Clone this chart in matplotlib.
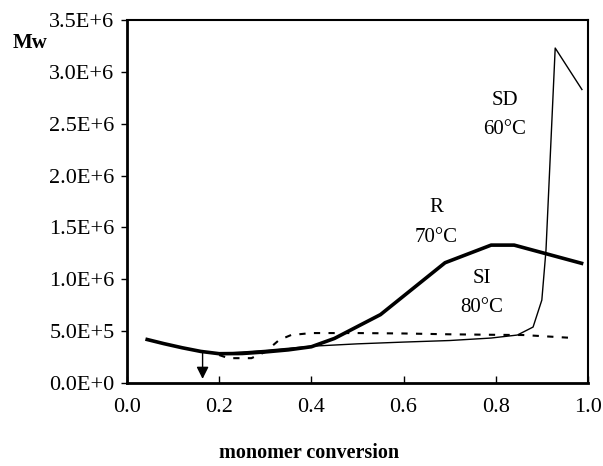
import matplotlib
matplotlib.use("Agg")
import matplotlib.pyplot as plt

plt.rcParams['font.family'] = ['Liberation Serif', 'DejaVu Serif']

# R, 70°C (thick solid)
r_x = [0.04, 0.08, 0.12, 0.16, 0.20, 0.25, 0.30, 0.35, 0.40, 0.45, 0.55, 0.69, 0.79, 0.84, 0.99]
r_y = [424e3, 380e3, 340e3, 305e3, 283e3, 285e3, 300e3, 320e3, 350e3, 430e3, 660e3, 1.16e6, 1.33e6, 1.33e6, 1.15e6]

# SD, 60°C (thin solid)
sd_x = [0.20, 0.30, 0.40, 0.50, 0.60, 0.70, 0.79, 0.847, 0.881, 0.90, 0.909, 0.929, 0.987]
sd_y = [283e3, 315e3, 355e3, 378e3, 395e3, 410e3, 434e3, 463e3, 540e3, 800e3, 1.28e6, 3.23e6, 2.83e6]

# SI, 80°C (dashed)
si_x = [0.20, 0.22, 0.27, 0.30, 0.33, 0.356, 0.40, 0.50, 0.60, 0.70, 0.80, 0.86, 0.97]
si_y = [270e3, 240e3, 240e3, 300e3, 415e3, 463e3, 482e3, 482e3, 478e3, 470e3, 465e3, 463e3, 434e3]

x_ticks = [0.0, 0.2, 0.4, 0.6, 0.8, 1.0]
x_labels = ['0.0', '0.2', '0.4', '0.6', '0.8', '1.0']
y_ticks = [0, 0.5e6, 1.0e6, 1.5e6, 2.0e6, 2.5e6, 3.0e6, 3.5e6]
y_labels = ['0.0E+0', '5.0E+5', '1.0E+6', '1.5E+6', '2.0E+6', '2.5E+6', '3.0E+6', '3.5E+6']

fig = plt.figure(figsize=(6.03, 4.66), dpi=100)
ax = fig.add_axes([0.2106, 0.178, 0.7644, 0.779])

ax.plot(r_x, r_y, color='black', lw=2.6, solid_capstyle='butt')
ax.plot(sd_x, sd_y, color='black', lw=1.0)
ax.plot(si_x, si_y, color='black', lw=1.5, linestyle=(0, (3, 4)))

ax.annotate('', xy=(0.164, 40e3), xytext=(0.164, 290e3),
            arrowprops=dict(arrowstyle='-|>', color='black', lw=1.0,
                            mutation_scale=18, shrinkA=0, shrinkB=0))

fs = 15
ax.text(0.82, 2.72e6, 'SD', ha='center', va='center', fontsize=fs)
ax.text(0.82, 2.44e6, '60°C', ha='center', va='center', fontsize=fs)
ax.text(0.67, 1.69e6, 'R', ha='center', va='center', fontsize=fs)
ax.text(0.67, 1.40e6, '70°C', ha='center', va='center', fontsize=fs)
ax.text(0.77, 1.01e6, 'SI', ha='center', va='center', fontsize=fs)
ax.text(0.77, 0.73e6, '80°C', ha='center', va='center', fontsize=fs)

ax.set_xlim(0, 1.0)
ax.set_ylim(0, 3.5e6)
ax.set_xticks(x_ticks)
ax.set_xticklabels(x_labels, fontsize=16)
ax.set_yticks(y_ticks)
ax.set_yticklabels(y_labels, fontsize=16)
ax.tick_params(axis='x', direction='in', length=5, width=1, pad=11)
ax.tick_params(axis='y', direction='out', length=4, width=1, pad=5)
for s in ax.spines.values():
    s.set_linewidth(1.5)
ax.spines['left'].set_linewidth(2)
ax.spines['bottom'].set_linewidth(2)

fig.text(0.05, 0.908, 'Mw', ha='center', va='center', fontsize=15, fontweight='bold')
fig.text(0.512, 0.028, 'monomer conversion', ha='center', va='center', fontsize=14.5, fontweight='bold')

fig.savefig('out.png', dpi=100)
